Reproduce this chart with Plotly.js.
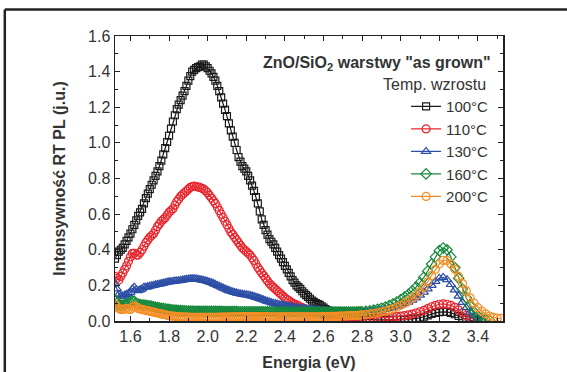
<!DOCTYPE html>
<html>
<head>
<meta charset="utf-8">
<script src="https://cdn.plot.ly/plotly-3.0.1.min.js"></script>
<style>html,body{margin:0;padding:0;background:#fff;}#chart{width:567px;height:372px;}</style>
</head>
<body>
<div id="chart"></div>
<script>
// Energy grid (eV): dense below 2.80 eV, coarser above (as in the measured spectra)
var energy = [
1.52,1.53,1.54,1.55,1.56,1.57,1.58,1.59,1.60,1.61,
1.62,1.63,1.64,1.65,1.66,1.67,1.68,1.69,1.70,1.71,
1.72,1.73,1.74,1.75,1.76,1.77,1.78,1.79,1.80,1.81,
1.82,1.83,1.84,1.85,1.86,1.87,1.88,1.89,1.90,1.91,
1.92,1.93,1.94,1.95,1.96,1.97,1.98,1.99,2.00,2.01,
2.02,2.03,2.04,2.05,2.06,2.07,2.08,2.09,2.10,2.11,
2.12,2.13,2.14,2.15,2.16,2.17,2.18,2.19,2.20,2.21,
2.22,2.23,2.24,2.25,2.26,2.27,2.28,2.29,2.30,2.31,
2.32,2.33,2.34,2.35,2.36,2.37,2.38,2.39,2.40,2.41,
2.42,2.43,2.44,2.45,2.46,2.47,2.48,2.49,2.50,2.51,
2.52,2.53,2.54,2.55,2.56,2.57,2.58,2.59,2.60,2.61,
2.62,2.63,2.64,2.65,2.66,2.67,2.68,2.69,2.70,2.71,
2.72,2.73,2.74,2.75,2.76,2.77,2.78,2.79,2.80,
2.82,2.84,2.86,2.88,2.90,2.92,2.94,2.96,2.98,3.00,
3.02,3.04,3.06,3.08,3.10,3.12,3.14,3.16,3.18,3.20,
3.22,3.24,3.26,3.28,3.30,3.32,3.34,3.36,3.38,3.40,
3.42,3.44,3.46,3.48,3.50,3.52];

var pl100 = [
0.35,0.37,0.39,0.40,0.41,0.43,0.45,0.47,0.49,0.515,
0.54,0.565,0.59,0.61,0.63,0.66,0.69,0.715,0.74,0.765,
0.79,0.815,0.84,0.87,0.90,0.935,0.97,1.005,1.04,1.08,
1.12,1.155,1.19,1.215,1.24,1.265,1.29,1.32,1.35,1.375,
1.40,1.41,1.42,1.425,1.43,1.44,1.44,1.43,1.42,1.405,
1.39,1.37,1.35,1.32,1.29,1.255,1.22,1.185,1.15,1.11,
1.07,1.035,1.00,0.96,0.92,0.895,0.87,0.855,0.84,0.815,
0.79,0.76,0.73,0.695,0.66,0.615,0.57,0.54,0.51,0.485,
0.46,0.445,0.43,0.41,0.39,0.37,0.35,0.33,0.31,0.29,
0.27,0.25,0.23,0.215,0.20,0.19,0.18,0.167,0.155,0.145,
0.135,0.125,0.115,0.107,0.10,0.095,0.09,0.082,0.075,0.067,
0.06,0.055,0.05,0.045,0.04,0.036,0.033,0.03,0.027,0.024,
0.022,0.02,0.018,0.016,0.014,0.013,0.012,0.011,0.010,
0.008,0.007,0.006,0.006,0.006,0.006,0.006,0.006,0.007,0.007,
0.008,0.010,0.012,0.014,0.018,0.024,0.032,0.040,0.046,0.050,
0.052,0.051,0.046,0.038,0.028,0.017,0.009,0.004,0.002,0.001,
0.0];

var pl110 = [
0.25,0.24,0.23,0.25,0.27,0.29,0.31,0.335,0.36,0.38,
0.38,0.37,0.37,0.385,0.40,0.42,0.44,0.455,0.47,0.48,
0.49,0.51,0.53,0.545,0.56,0.57,0.58,0.595,0.61,0.62,
0.63,0.65,0.67,0.685,0.70,0.71,0.72,0.73,0.74,0.75,
0.755,0.758,0.755,0.752,0.75,0.745,0.74,0.73,0.72,0.705,
0.69,0.675,0.66,0.64,0.62,0.60,0.58,0.56,0.54,0.52,
0.50,0.485,0.47,0.455,0.44,0.425,0.41,0.40,0.39,0.38,
0.37,0.355,0.34,0.32,0.30,0.285,0.27,0.255,0.24,0.225,
0.21,0.20,0.19,0.18,0.17,0.16,0.15,0.14,0.13,0.122,
0.115,0.107,0.10,0.095,0.09,0.085,0.08,0.075,0.07,0.066,
0.062,0.058,0.055,0.052,0.05,0.047,0.045,0.042,0.04,0.038,
0.036,0.034,0.032,0.03,0.028,0.027,0.025,0.024,0.022,0.021,
0.02,0.019,0.018,0.017,0.016,0.016,0.015,0.015,0.014,
0.014,0.014,0.015,0.016,0.017,0.019,0.021,0.023,0.025,0.027,
0.030,0.034,0.039,0.045,0.052,0.060,0.070,0.080,0.088,0.094,
0.096,0.094,0.088,0.077,0.062,0.046,0.031,0.018,0.009,0.004,
0.002];

var pl130 = [
0.21,0.18,0.15,0.14,0.14,0.145,0.15,0.155,0.16,0.18,
0.19,0.175,0.17,0.175,0.18,0.19,0.19,0.192,0.195,0.198,
0.20,0.203,0.205,0.207,0.21,0.212,0.215,0.218,0.22,0.221,
0.222,0.224,0.225,0.226,0.228,0.23,0.232,0.234,0.235,0.237,
0.238,0.238,0.236,0.234,0.232,0.23,0.228,0.225,0.222,0.218,
0.215,0.21,0.205,0.20,0.195,0.19,0.185,0.18,0.175,0.171,
0.167,0.163,0.16,0.157,0.155,0.152,0.15,0.148,0.147,0.145,
0.143,0.14,0.137,0.133,0.13,0.126,0.122,0.118,0.114,0.11,
0.107,0.103,0.10,0.097,0.095,0.092,0.09,0.088,0.086,0.084,
0.082,0.08,0.078,0.076,0.075,0.073,0.072,0.07,0.069,0.067,
0.066,0.065,0.064,0.063,0.062,0.061,0.06,0.059,0.058,0.057,
0.056,0.056,0.055,0.055,0.054,0.054,0.053,0.053,0.052,0.052,
0.051,0.051,0.051,0.051,0.051,0.051,0.051,0.051,0.052,
0.053,0.055,0.057,0.060,0.063,0.067,0.071,0.076,0.082,0.089,
0.097,0.106,0.117,0.130,0.145,0.162,0.180,0.200,0.222,0.240,
0.245,0.232,0.205,0.175,0.140,0.105,0.075,0.050,0.030,0.016,
0.008];

var pl160 = [
0.12,0.10,0.09,0.088,0.09,0.092,0.095,0.10,0.105,0.11,
0.11,0.10,0.095,0.092,0.09,0.089,0.088,0.086,0.085,0.082,
0.08,0.077,0.075,0.073,0.072,0.07,0.068,0.066,0.065,0.063,
0.062,0.061,0.06,0.059,0.058,0.057,0.057,0.056,0.056,0.056,
0.056,0.055,0.055,0.055,0.055,0.055,0.055,0.055,0.055,0.055,
0.054,0.054,0.054,0.054,0.054,0.054,0.053,0.053,0.053,0.053,
0.053,0.053,0.053,0.053,0.052,0.052,0.052,0.052,0.052,0.052,
0.052,0.052,0.051,0.051,0.051,0.051,0.051,0.051,0.051,0.051,
0.051,0.051,0.051,0.050,0.050,0.050,0.050,0.050,0.050,0.050,
0.050,0.050,0.050,0.050,0.050,0.050,0.050,0.050,0.050,0.050,
0.050,0.050,0.050,0.050,0.050,0.050,0.050,0.050,0.050,0.050,
0.050,0.050,0.050,0.050,0.050,0.050,0.050,0.050,0.050,0.050,
0.050,0.050,0.050,0.050,0.050,0.050,0.051,0.051,0.052,
0.054,0.057,0.061,0.066,0.072,0.079,0.087,0.096,0.107,0.120,
0.135,0.150,0.170,0.190,0.215,0.245,0.280,0.320,0.360,0.395,
0.410,0.400,0.360,0.300,0.240,0.180,0.130,0.085,0.050,0.028,
0.015,0.008,0.004];

var pl200 = [
0.095,0.08,0.07,0.065,0.065,0.068,0.07,0.066,0.065,0.08,
0.085,0.078,0.07,0.067,0.065,0.062,0.06,0.057,0.055,0.052,
0.05,0.047,0.045,0.042,0.04,0.037,0.035,0.032,0.03,0.028,
0.027,0.026,0.025,0.024,0.023,0.023,0.022,0.022,0.022,0.021,
0.021,0.021,0.021,0.020,0.020,0.020,0.020,0.020,0.020,0.020,
0.021,0.021,0.021,0.021,0.022,0.022,0.022,0.022,0.022,0.023,
0.023,0.023,0.023,0.024,0.024,0.025,0.025,0.025,0.025,0.025,
0.025,0.025,0.025,0.025,0.025,0.025,0.025,0.025,0.025,0.025,
0.024,0.024,0.024,0.024,0.024,0.024,0.024,0.024,0.024,0.024,
0.024,0.024,0.023,0.023,0.023,0.023,0.023,0.023,0.023,0.023,
0.023,0.023,0.024,0.024,0.024,0.024,0.024,0.024,0.025,0.025,
0.025,0.025,0.026,0.026,0.026,0.026,0.027,0.027,0.028,0.028,
0.029,0.029,0.030,0.030,0.031,0.031,0.032,0.033,0.034,
0.036,0.039,0.042,0.046,0.051,0.056,0.062,0.070,0.078,0.088,
0.100,0.113,0.128,0.145,0.165,0.190,0.220,0.255,0.290,0.320,
0.340,0.340,0.320,0.290,0.250,0.210,0.170,0.130,0.100,0.075,
0.055,0.040,0.028,0.020,0.016,0.015];

var seriesNames = ['100°C','110°C','130°C','160°C','200°C'];
var seriesColors = ['#1a1a1a','#e8242c','#2c4ea6','#16883a','#f68d24'];
var seriesSymbols = ['square-open','circle-open','triangle-up-open','diamond-open','circle-open'];
var seriesSizes = [7, 8, 8, 8, 8];
var seriesValues = [pl100, pl110, pl130, pl160, pl200];

var xTicks = [1.6,1.8,2.0,2.2,2.4,2.6,2.8,3.0,3.2,3.4];
var xTickText = ['1.6','1.8','2.0','2.2','2.4','2.6','2.8','3.0','3.2','3.4'];
var yTicks = [0,0.2,0.4,0.6,0.8,1.0,1.2,1.4,1.6];
var yTickText = ['0.0','0.2','0.4','0.6','0.8','1.0','1.2','1.4','1.6'];

var traces = seriesValues.map(function(v, i){
  return {
    x: energy.slice(0, v.length), y: v, name: seriesNames[i],
    type: 'scatter', mode: 'lines+markers',
    line: {color: seriesColors[i], width: 1.2},
    marker: {symbol: seriesSymbols[i], size: seriesSizes[i], color: seriesColors[i],
             line: {width: 1.2, color: seriesColors[i]}}
  };
});

var fontFam = 'Liberation Sans, Arial, sans-serif';
var axisCommon = {
  showline: true, linecolor: '#222', linewidth: 1.5, mirror: 'ticks',
  ticks: 'inside', ticklen: 5, tickwidth: 1, tickcolor: '#222',
  showgrid: false, zeroline: false,
  tickfont: {family: fontFam, size: 16, color: '#333'}
};

var layout = {
  width: 567, height: 372,
  margin: {l: 115, r: 64, t: 36, b: 51, pad: 0},
  paper_bgcolor: '#fff', plot_bgcolor: '#fff',
  showlegend: true,
  xaxis: Object.assign({}, axisCommon, {
    range: [1.52, 3.53], tickmode: 'array', tickvals: xTicks, ticktext: xTickText,
    minor: {dtick: 0.1, tick0: 1.5, ticks: 'inside', ticklen: 3, tickcolor: '#222'},
    title: {text: '<b>Energia (eV)</b>', font: {family: fontFam, size: 16, color: '#333'}, standoff: 13}
  }),
  yaxis: Object.assign({}, axisCommon, {
    range: [0, 1.6], tickmode: 'array', tickvals: yTicks, ticktext: yTickText,
    minor: {dtick: 0.1, tick0: 0, ticks: 'inside', ticklen: 3, tickcolor: '#222'},
    title: {text: '<b>Intensywność RT PL (j.u.)</b>', font: {family: fontFam, size: 16, color: '#333'}, standoff: 18}
  }),
  legend: {
    x: 0.977, xanchor: 'right', y: 0.81, yanchor: 'top',
    bgcolor: 'rgba(0,0,0,0)', borderwidth: 0,
    font: {family: fontFam, size: 15, color: '#333'},
    itemwidth: 30, tracegroupgap: 0
  },
  annotations: [
    {xref: 'paper', yref: 'paper', x: 0.975, y: 0.905, xanchor: 'right', yanchor: 'middle', showarrow: false,
     text: '<b>ZnO/SiO<sub>2</sub> warstwy "as grown"</b>', font: {family: fontFam, size: 16, color: '#333'}},
    {xref: 'paper', yref: 'paper', x: 0.962, y: 0.829, xanchor: 'right', yanchor: 'middle', showarrow: false,
     text: 'Temp. wzrostu', font: {family: fontFam, size: 16, color: '#333'}}
  ],
  shapes: [
    {type: 'line', xref: 'paper', yref: 'paper', x0: -0.284, x1: 1.2, y0: 1.093, y1: 1.093, line: {color: '#222', width: 2.5}},
    {type: 'line', xref: 'paper', yref: 'paper', x0: -0.284, x1: -0.284, y0: -0.3, y1: 1.093, line: {color: '#222', width: 2.5}}
  ]
};

Plotly.newPlot('chart', traces, layout, {displayModeBar: false, staticPlot: true});
</script>
</body>
</html>
